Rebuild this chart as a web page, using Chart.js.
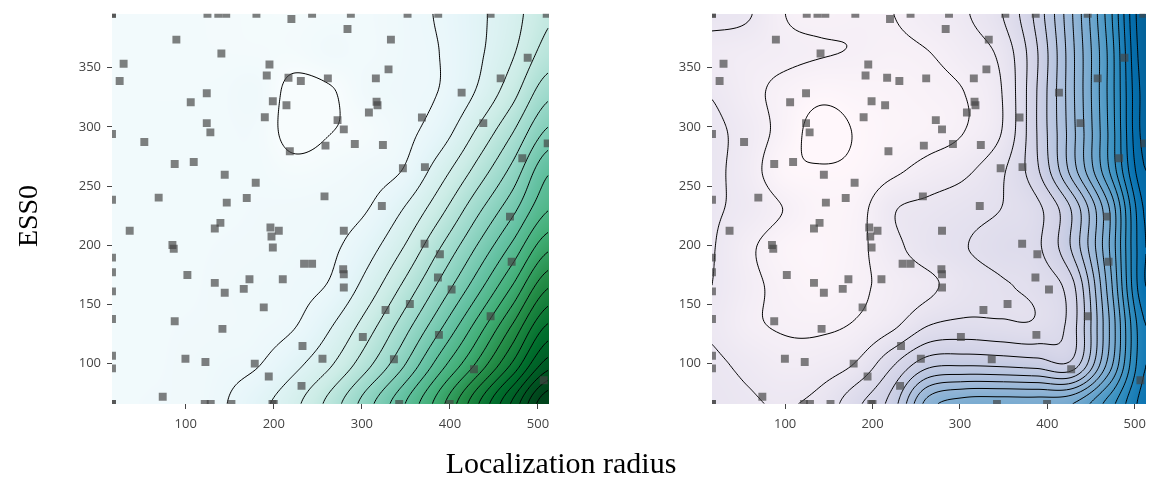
<!DOCTYPE html>
<html>
<head>
<meta charset="utf-8">
<script src="https://cdn.jsdelivr.net/npm/chart.js@4.4.1/dist/chart.umd.min.js"></script>
<style>
  body { margin: 0; background: #fff; width: 1153px; height: 480px; position: relative; overflow: hidden; }
  .box { position: absolute; top: 0; height: 480px; }
  #xtitle { position: absolute; left: 0; width: 1122px; top: 446px; text-align: center;
    font: 30px 'Liberation Serif', serif; color: #000; }
  #ytitle { position: absolute; left: -72px; width: 200px; top: 200px; text-align: center;
    font: 28px 'Liberation Serif', serif; color: #000; transform: rotate(-90deg); }
</style>
</head>
<body>
<div class="box" style="left:0;width:560px"><canvas id="chart" width="560" height="480"></canvas></div>
<div class="box" style="left:600px;width:553px"><canvas id="chart1" width="553" height="480"></canvas></div>
<div id="xtitle">Localization radius</div>
<div id="ytitle">ESS0</div>
<script>
const xTicks = [100, 200, 300, 400, 500];
const yTicks = [100, 150, 200, 250, 300, 350];
const xRange = [16.3, 512.5];
const yRange = [65.8, 395.6];

// sample locations (same in both panels)
const sampleX = [16.3, 16.3, 16.3, 16.3, 124.7, 137, 146, 180.3, 220, 243.5, 89.4, 140.5, 29.5, 25, 195.1, 192, 216.7, 230.7,
  261.4, 123.9, 105.7, 198.9, 214.4, 189.8, 123.9, 128, 16.3, 53, 218.2, 258.7, 87.5, 109.1, 144.3, 179.5,
  16.3, 69.3, 146.6, 169.3, 257.6, 287.5, 351.9, 386.7, 446.2, 509.9, 283.7, 333, 488.3, 330.3, 315.9, 457.6,
  413.3, 316.7, 317.8, 308, 368.2, 272.4, 437.9, 279.5, 292, 323.9, 511, 482.2, 346.6, 371.6, 322.7, 36.4,
  139.4, 133, 196.2, 205.7, 197.4, 84.9, 86.4, 198.9, 234.4, 243.5, 16.3, 16.3, 16.3, 16.3, 16.3, 16.3,
  101.9, 133, 144.3, 172.4, 165.9, 210.2, 188.6, 87.5, 141.7, 232.6, 255.3, 99.7, 122.4, 178.4, 194.3, 231.5,
  73.9, 121.6, 128.4, 151.9, 198.5, 200, 468.2, 279.5, 371.2, 388.6, 470.1, 278.8, 279.5, 386.4, 279.5, 401.9,
  354.5, 326.9, 446.2, 301.1, 387.5, 336.4, 427.3, 506.5, 342.4, 399.7];
const sampleY = [395.6, 395.6, 65.8, 65.8, 395.6, 395.6, 395.6, 395.6, 391.2, 395.6, 373.8, 362, 353.4, 338.8, 352.8, 343.5, 341.6, 338.8,
  341, 328.4, 320.8, 321.7, 318.3, 308.2, 303.2, 295.4, 294, 287.2, 279.4, 284.2, 268.7, 270.4, 259.5, 252.8,
  238.5, 240.2, 236, 239.9, 241.3, 395.6, 395.6, 395.6, 395.6, 395.6, 382.8, 373.8, 358.4, 348.6, 341, 341,
  329, 321.2, 318.3, 312.2, 308, 305.7, 303.2, 297.9, 285.5, 284.7, 286.1, 273.5, 265.1, 266, 233.2, 212.2,
  218.9, 214.1, 215, 212.2, 207.4, 200.2, 197, 198.1, 184.4, 184.4, 189.5, 177.2, 161, 137.7, 106.6, 95.9,
  174.9, 168.2, 159.8, 171.2, 163.1, 171.2, 147.5, 135.7, 129.3, 114.8, 104.1, 104.1, 101.3, 99.9, 89, 81.1,
  71.9, 65.8, 65.8, 65.8, 65.8, 65.8, 224.2, 212.2, 201.3, 192.3, 186.1, 179.7, 175.5, 172.7, 164.3, 162.6,
  150.3, 145.3, 140, 122.4, 124.2, 103.6, 95.2, 85.9, 65.8, 65.8];

// field, in contour-level units (rows top to bottom)
const gridX = [16, 57, 99, 140, 181, 223, 264, 305, 347, 388, 429, 471, 512];
const gridY = [395, 362, 329, 296, 263, 231, 198, 165, 132, 99, 66];
const leftField = [
  [0.4, 0.4, 0.4, 0.35, 0.3, 0.3, 0.4, 0.5, 0.75, 1.08, 1.75, 2.6, 3.88],
  [0.45, 0.45, 0.4, 0.38, 0.35, 0.3, 0.57, 0.5, 0.75, 1.0, 1.77, 2.9, 4.45],
  [0.45, 0.45, 0.45, 0.5, 0.64, -0.3, -0.1, 0.6, 0.8, 1.03, 2.04, 3.65, 5.7],
  [0.5, 0.5, 0.5, 0.5, 0.49, -0.3, -0.02, 0.23, 0.75, 1.48, 3.05, 4.94, 7.2],
  [0.5, 0.5, 0.5, 0.5, 0.5, 0.26, 0.4, 0.65, 1.04, 2.5, 4.26, 6.31, 8.86],
  [0.5, 0.5, 0.5, 0.5, 0.55, 0.6, 0.7, 0.95, 2.0, 3.63, 5.61, 7.67, 9.93],
  [0.5, 0.5, 0.5, 0.55, 0.6, 0.7, 0.85, 1.58, 3.0, 4.94, 7.0, 9.27, 11.8],
  [0.5, 0.5, 0.5, 0.6, 0.7, 0.8, 1.1, 2.36, 4.17, 6.24, 8.47, 11.07, 13.92],
  [0.5, 0.5, 0.55, 0.6, 0.7, 0.95, 1.91, 3.45, 5.47, 7.73, 10.23, 13.08, 16.15],
  [0.5, 0.5, 0.6, 0.75, 0.95, 1.74, 2.89, 4.68, 6.88, 9.5, 12.08, 15.18, 18.55],
  [0.5, 0.55, 0.6, 0.9, 1.66, 2.73, 4.37, 6.53, 8.87, 11.55, 14.7, 18.2, 22.0]
];
const rightField = [
  [2.3, 2.1, 1.02, 0.78, 0.9, 0.99, 1.44, 1.89, 2.93, 5.33, 9.0, 13.6, 19.0],
  [1.6, 1.4, 1.2, 1.05, 0.95, 0.8, 0.97, 1.48, 2.25, 4.9, 8.8, 13.3, 18.8],
  [1.95, 1.3, 0.71, 0.27, 0.4, 0.5, 0.7, 1.0, 1.95, 5.0, 8.8, 13.3, 18.5],
  [2.2, 1.6, 0.6, -0.4, 0.06, 0.4, 0.6, 1.0, 1.97, 5.0, 8.7, 13.2, 18.5],
  [2.2, 1.5, 0.25, 0.09, 0.2, 0.8, 1.35, 1.8, 2.8, 4.8, 8.5, 13.0, 18.0],
  [2.1, 1.7, 0.97, 0.4, 0.6, 1.9, 2.25, 2.6, 3.0, 3.73, 6.2, 11.0, 17.2],
  [2.05, 1.2, 0.46, 0.3, 0.7, 1.7, 2.5, 2.95, 3.4, 3.8, 6.2, 11.0, 17.0],
  [2.0, 1.3, 0.7, 0.4, 0.8, 1.3, 1.8, 2.5, 2.9, 3.3, 4.75, 10.5, 17.0],
  [1.9, 1.2, 0.9, 0.85, 1.1, 1.8, 3.0, 3.3, 3.2, 3.2, 4.6, 10.0, 16.0],
  [2.15, 1.8, 1.4, 1.5, 2.1, 3.9, 5.7, 5.9, 5.8, 5.6, 5.4, 10.5, 16.0],
  [2.3, 2.1, 1.95, 2.3, 3.75, 5.5, 9.5, 10.5, 10.6, 10.6, 11.0, 13.5, 16.5]
];

const leftStops = [0, 1.5, 3.5, 6, 8.5, 11, 13.5, 16.5, 21];
const leftColors = ['#f7fcfd', '#e5f5f9', '#ccece6', '#99d8c9', '#66c2a4', '#41ae76', '#238b45', '#006d2c', '#00441b'];
const rightStops = [0, 2, 5, 8, 11, 14, 17, 20, 23];
const rightColors = ['#fff7fb', '#ece7f2', '#d0d1e6', '#a6bddb', '#74a9cf', '#3690c0', '#0570b0', '#045a8d', '#023858'];

function hexRgb(h) {
  return [parseInt(h.slice(1, 3), 16), parseInt(h.slice(3, 5), 16), parseInt(h.slice(5, 7), 16)];
}

function colorAt(v, stops, rgbs) {
  if (v <= stops[0]) return rgbs[0];
  for (let k = 0; k < stops.length - 1; k++) {
    if (v <= stops[k + 1]) {
      const t = (v - stops[k]) / (stops[k + 1] - stops[k]);
      const a = rgbs[k], b = rgbs[k + 1];
      return [a[0] + (b[0] - a[0]) * t, a[1] + (b[1] - a[1]) * t, a[2] + (b[2] - a[2]) * t];
    }
  }
  return rgbs[rgbs.length - 1];
}

function fracIndex(arr, v) {
  const n = arr.length;
  for (let k = 0; k < n - 1; k++) {
    const a = arr[k], b = arr[k + 1];
    if ((v - a) * (v - b) <= 0) return k + (v - a) / (b - a);
  }
  return Math.abs(v - arr[0]) < Math.abs(v - arr[n - 1]) ? 0 : n - 1;
}

// smooth (Catmull-Rom) lookup between the grid nodes
function cr(p0, p1, p2, p3, t) {
  return p1 + 0.5 * t * (p2 - p0 + t * (2 * p0 - 5 * p1 + 4 * p2 - p3 + t * (3 * (p1 - p2) + p3 - p0)));
}

function sample(grid, fi, fj) {
  const rows = grid.length, cols = grid[0].length;
  const i = Math.min(Math.floor(fi), cols - 2), j = Math.min(Math.floor(fj), rows - 2);
  const tx = fi - i, ty = fj - j;
  const g = (r, c) => grid[Math.max(0, Math.min(rows - 1, r))][Math.max(0, Math.min(cols - 1, c))];
  const v = [];
  for (let r = j - 1; r <= j + 2; r++) v.push(cr(g(r, i - 1), g(r, i), g(r, i + 1), g(r, i + 2), tx));
  return cr(v[0], v[1], v[2], v[3], ty);
}

const fieldPlugin = {
  id: 'field',
  beforeDatasetsDraw(chart, args, opts) {
    const { ctx, chartArea: a, scales: { x, y } } = chart;
    const w = Math.round(a.right - a.left), h = Math.round(a.bottom - a.top);
    const fis = [], fjs = [];
    for (let px = 0; px <= w; px++) fis.push(fracIndex(gridX, x.getValueForPixel(a.left + px)));
    for (let py = 0; py <= h; py++) fjs.push(fracIndex(gridY, y.getValueForPixel(a.top + py)));
    const vals = [];
    for (let py = 0; py <= h; py++) {
      const row = new Float32Array(w + 1);
      for (let px = 0; px <= w; px++) row[px] = sample(opts.grid, fis[px], fjs[py]);
      vals.push(row);
    }
    const rgbs = opts.colors.map(hexRgb);
    const off = document.createElement('canvas');
    off.width = w; off.height = h;
    const octx = off.getContext('2d');
    const img = octx.createImageData(w, h);
    for (let py = 0; py < h; py++) {
      for (let px = 0; px < w; px++) {
        const v = (vals[py][px] + vals[py][px + 1] + vals[py + 1][px] + vals[py + 1][px + 1]) / 4;
        const c = colorAt(v, opts.stops, rgbs);
        const o = (py * w + px) * 4;
        img.data[o] = c[0]; img.data[o + 1] = c[1]; img.data[o + 2] = c[2]; img.data[o + 3] = 255;
      }
    }
    octx.putImageData(img, 0, 0);
    ctx.save();
    ctx.drawImage(off, a.left, a.top);
    ctx.beginPath();
    ctx.rect(a.left, a.top, w, h);
    ctx.clip();

    // contour lines, marching squares on the pixel lattice
    const s = 2;
    ctx.beginPath();
    for (const L of opts.levels) {
      for (let py = 0; py + s <= h; py += s) {
        for (let px = 0; px + s <= w; px += s) {
          const v0 = vals[py][px] - L, v1 = vals[py][px + s] - L;
          const v2 = vals[py + s][px + s] - L, v3 = vals[py + s][px] - L;
          const pts = [];
          if (v0 * v1 < 0) pts.push([px + s * v0 / (v0 - v1), py]);
          if (v1 * v2 < 0) pts.push([px + s, py + s * v1 / (v1 - v2)]);
          if (v2 * v3 < 0) pts.push([px + s - s * v2 / (v2 - v3), py + s]);
          if (v3 * v0 < 0) pts.push([px, py + s - s * v3 / (v3 - v0)]);
          if (pts.length >= 2) {
            const pairs = pts.length === 4 ? [[0, 1], [2, 3]] : [[0, 1]];
            for (const [p, q] of pairs) {
              ctx.moveTo(a.left + pts[p][0], a.top + pts[p][1]);
              ctx.lineTo(a.left + pts[q][0], a.top + pts[q][1]);
            }
          }
        }
      }
    }
    ctx.strokeStyle = '#000';
    ctx.lineWidth = 1;
    ctx.stroke();
    ctx.restore();
  }
};

function levelsOf(grid) {
  const flat = grid.flat();
  const lv = [];
  for (let k = Math.ceil(Math.min(...flat)); k <= Math.floor(Math.max(...flat)); k++) lv.push(k);
  return lv;
}

function makeOptions(grid, stops, colors, padRight) {
  const tickFont = { family: 'Open Sans', size: 13 };
  return {
    responsive: false,
    animation: false,
    layout: { padding: { top: 12, right: padRight, left: 0, bottom: 0 } },
    plugins: {
      legend: { display: false },
      tooltip: { enabled: false },
      field: { grid: grid, stops: stops, colors: colors, levels: levelsOf(grid) },
    },
    scales: {
      x: {
        type: 'linear',
        min: xRange[0],
        max: xRange[1],
        afterBuildTicks: (s) => { s.ticks = xTicks.map((v) => ({ value: v })); },
        afterFit: (s) => { s.height = 76; },
        grid: { drawOnChartArea: false, tickLength: 5, color: '#444' },
        border: { display: false },
        ticks: { color: '#444', font: tickFont, padding: 7, maxRotation: 0 },
      },
      y: {
        type: 'linear',
        min: yRange[0],
        max: yRange[1],
        afterBuildTicks: (s) => { s.ticks = yTicks.map((v) => ({ value: v })); },
        afterFit: (s) => { s.width = 112; },
        grid: { drawOnChartArea: false, tickLength: 5, color: '#444' },
        border: { display: false },
        ticks: { color: '#444', font: tickFont, padding: 6 },
      },
    },
  };
}

const points = sampleX.map((v, k) => ({ x: v, y: sampleY[k] }));

function pointData() {
  return {
    datasets: [{
      data: points,
      pointStyle: 'rect',
      pointRadius: 5.6,
      pointHoverRadius: 5.6,
      borderWidth: 0,
      backgroundColor: 'rgba(68, 68, 68, 0.68)',
      clip: 0,
    }],
  };
}

let chart = new Chart(document.getElementById('chart'), {
  type: 'scatter',
  data: pointData(),
  options: makeOptions(leftField, leftStops, leftColors, 11),
  plugins: [fieldPlugin],
});

let chart1 = new Chart(document.getElementById('chart1'), {
  type: 'scatter',
  data: pointData(),
  options: makeOptions(rightField, rightStops, rightColors, 4),
  plugins: [fieldPlugin],
});
</script>
</body>
</html>
